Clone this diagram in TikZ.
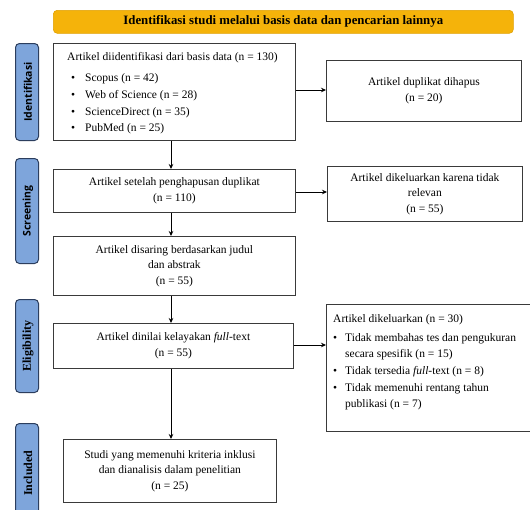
\documentclass[tikz,border=0pt]{standalone}
\usepackage{fontspec}
\setmainfont{Liberation Serif}
\setsansfont{Open Sans}
\usetikzlibrary{arrows.meta}
\definecolor{hdr}{HTML}{F5B30A}
\definecolor{hdrline}{HTML}{E0A000}
\definecolor{side}{HTML}{7EA5DB}
\definecolor{sideline}{HTML}{2C3E5E}
\definecolor{boxline}{HTML}{3A3A3A}
\begin{document}
\begin{tikzpicture}[x=1pt,y=-1pt,
  font=\fontsize{11.5}{15.5}\selectfont,
  box/.style={draw=boxline, line width=0.8pt, fill=white, inner sep=0pt, anchor=north west},
  sidebox/.style={draw=sideline, line width=1pt, fill=side, rounded corners=4pt, inner sep=0pt, anchor=north west, minimum width=23pt},
  sidetext/.style={rotate=90, font=\fontsize{12}{13}\selectfont\bfseries},
  sidesans/.style={rotate=90, font=\fontsize{10.5}{12}\selectfont\sffamily\bfseries},
  listtext/.style={anchor=north west, inner sep=0pt, align=left, font=\fontsize{11.5}{16.6}\selectfont},
  conn/.style={draw=black, line width=0.8pt, -{Stealth[length=5pt,width=4.5pt]}}]
\useasboundingbox (0,0) rectangle (530,509);
\clip (0,0) rectangle (530,509);
\fill[white] (0,0) rectangle (530,509);

% header
\node[draw=hdrline, line width=0.6pt, fill=hdr, rounded corners=4pt, anchor=north west,
  minimum width=460pt, minimum height=23pt, inner sep=0pt,
  font=\fontsize{12.8}{14}\selectfont\bfseries] (hdr) at (53,10)
  {Identifikasi studi melalui basis data dan pencarian lainnya};

% side labels
\node[sidebox, minimum height=97pt] (s1) at (15,43) {};
\node[sidesans] (s1t) at ([xshift=1pt]s1.center) {Identifikasi};
\node[sidebox, minimum height=105pt] (s2) at (15,158) {};
\node[sidesans] (s2t) at ([xshift=1pt]s2.center) {Screening};
\node[sidebox, minimum height=93pt] (s3) at (15,299) {};
\node[sidetext] (s3t) at ([xshift=1pt]s3.center) {Eligibility};
\node[sidebox, minimum height=97pt] (s4) at (15,423) {};
\node[sidetext] (s4t) at ([xshift=1pt,yshift=-1pt]s4.center) {Included};

% left column boxes
\node[box, minimum width=242pt, minimum height=97pt] (b1) at (53,43) {};
\node[listtext] (b1t) at (67,52)
  {Artikel diidentifikasi dari basis data (n = 130)\\[5pt]
   \hspace*{4pt}\textbullet\hspace{10pt}Scopus (n = 42)\\
   \hspace*{4pt}\textbullet\hspace{10pt}Web of Science (n = 28)\\
   \hspace*{4pt}\textbullet\hspace{10pt}ScienceDirect (n = 35)\\
   \hspace*{4pt}\textbullet\hspace{10pt}PubMed (n = 25)};

\node[box, minimum width=242pt, minimum height=43pt, align=center] (b2) at (53,169)
  {Artikel setelah penghapusan duplikat\\(n = 110)};
\node[box, minimum width=242pt, minimum height=59pt, align=center] (b3) at (53,236)
  {Artikel disaring berdasarkan judul\\dan abstrak\\(n = 55)};
\node[box, minimum width=240pt, minimum height=45pt, align=center] (b4) at (53,323)
  {Artikel dinilai kelayakan \textit{full}-text\\(n = 55)};
\node[box, minimum width=213pt, minimum height=63pt, align=center] (b5) at (63,439)
  {Studi yang memenuhi kriteria inklusi\\dan dianalisis dalam penelitian\\(n = 25)};

% right column boxes
\node[box, minimum width=195pt, minimum height=61pt, align=center] (r1) at (326,60)
  {Artikel duplikat dihapus\\(n = 20)};
\node[box, minimum width=195pt, minimum height=55pt, align=center] (r2) at (327,166)
  {Artikel dikeluarkan karena tidak\\relevan\\(n = 55)};
\node[box, minimum width=215pt, minimum height=127pt] (r3) at (326,304) {};
\node[listtext] (r3t) at (333,314)
  {Artikel dikeluarkan (n = 30)\\[2.5pt]
   \textbullet\hspace{8pt}Tidak membahas tes dan pengukuran\\
   \hspace*{12pt}secara spesifik (n = 15)\\
   \textbullet\hspace{8pt}Tidak tersedia \textit{full}-text (n = 8)\\
   \textbullet\hspace{8pt}Tidak memenuhi rentang tahun\\
   \hspace*{12pt}publikasi (n = 7)};

% connectors
\coordinate (c1) at (b1.east |- 0,90);
\draw[conn] (c1) -- (c1 -| r1.west);
\coordinate (c2) at (b2.east |- 0,192);
\draw[conn] (c2) -- (c2 -| r2.west);
\coordinate (c3) at (b4.east |- 0,345);
\draw[conn] (c3) -- (c3 -| r3.west);

\coordinate (v1) at (171,0);
\draw[conn] (b1.south -| v1) -- (b2.north -| v1);
\draw[conn] (b2.south -| v1) -- (b3.north -| v1);
\draw[conn] (b3.south -| v1) -- (b4.north -| v1);
\draw[conn] (b4.south -| v1) -- (b5.north -| v1);
\end{tikzpicture}
\end{document}
